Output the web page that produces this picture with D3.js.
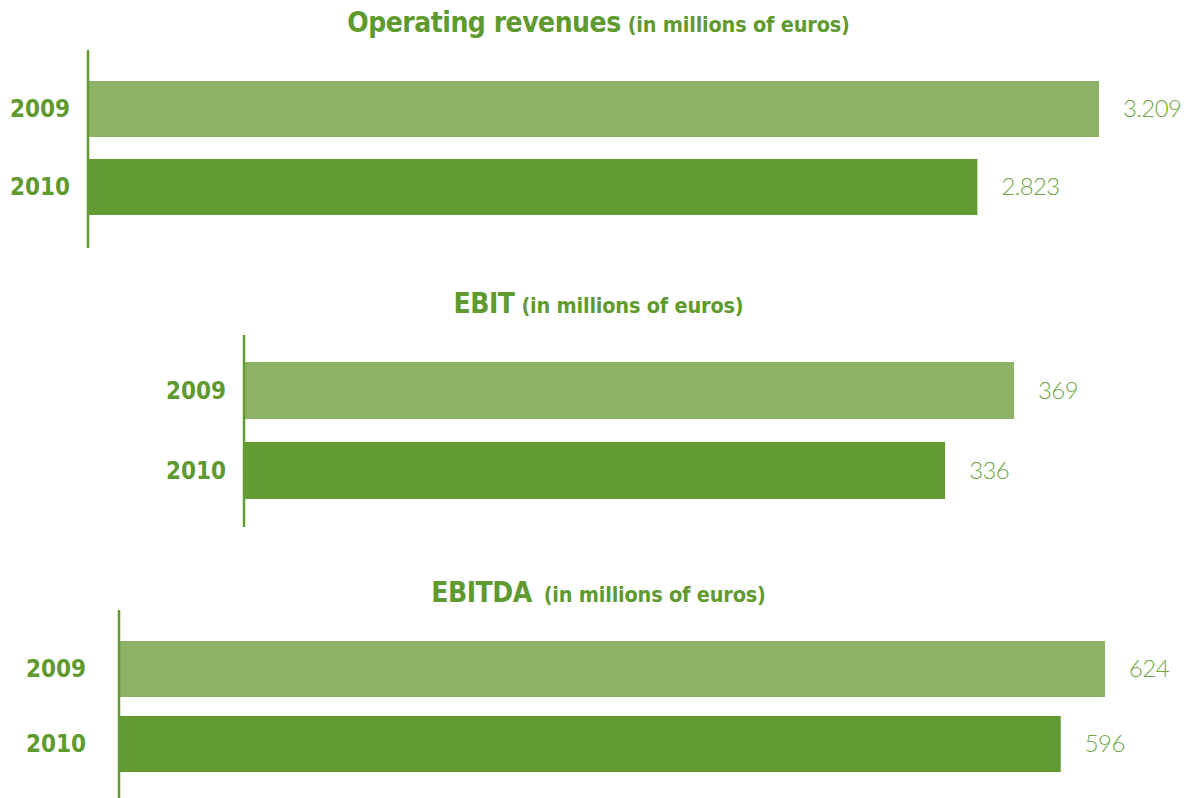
<!DOCTYPE html>
<html>
<head>
<meta charset="utf-8">
<script src="https://cdn.jsdelivr.net/npm/d3@7"></script>
<style>
  body { margin: 0; background: #fff; }
  .title { fill: #5f9a2f; font-family: 'DejaVu Sans Condensed', 'DejaVu Sans', sans-serif; font-stretch: condensed; font-weight: bold; }
  .year { fill: #5f9a2f; font-family: 'DejaVu Sans Condensed', 'DejaVu Sans', sans-serif; font-stretch: condensed; font-weight: bold; font-size: 24px; }
  .value { fill: #6ea544; font-family: Lato, sans-serif; font-weight: 300; font-size: 24px; letter-spacing: -0.6px; }
  .axis-line { stroke: #629b31; stroke-width: 2.5; }
</style>
</head>
<body>
<svg id="chart"></svg>
<script>
const years = ['2009', '2010'];
const titles = ['Operating revenues', 'EBIT', 'EBITDA'];
const subtitle = '(in millions of euros)';
const revenues = [3209, 2823];
const ebit = [369, 336];
const ebitda = [624, 596];

const width = 1189,
  height = 798;
const colors = ['#8db266', '#629b31'];

// european style numbers: 3.209
const fmt = d3.formatLocale({decimal: ',', thousands: '.', grouping: [3], currency: ['', '€']}).format(',d');

// where each panel sits on the page
const panels = [
  {title: titles[0], values: revenues, titleY: 32, axisX: 88, axisTop: 50, axisBottom: 248,
    bandTop: 81, bandBottom: 215, gap: 22, maxX: 1099, labelX: 70, gapSpace: 7},
  {title: titles[1], values: ebit, titleY: 313, axisX: 244, axisTop: 335, axisBottom: 527,
    bandTop: 362, bandBottom: 499, gap: 23, maxX: 1014, labelX: 226, gapSpace: 7},
  {title: titles[2], values: ebitda, titleY: 602, axisX: 119, axisTop: 610, axisBottom: 798,
    bandTop: 641, bandBottom: 772, gap: 19, maxX: 1105, labelX: 86, gapSpace: 12},
];

const svg = d3.select('#chart')
  .attr('width', width)
  .attr('height', height);

panels.forEach(p => {
  const g = svg.append('g');

  const x = d3.scaleLinear()
    .domain([0, d3.max(p.values)])
    .range([p.axisX, p.maxX]);
  const bw = (p.bandBottom - p.bandTop - p.gap) / 2;
  const y = d3.scaleBand()
    .domain(years)
    .range([p.bandTop, p.bandBottom])
    .paddingInner(p.gap / (bw + p.gap));

  // title, bold name + smaller unit
  const t = g.append('text')
    .attr('class', 'title')
    .attr('x', width / 2 + 4)
    .attr('y', p.titleY)
    .attr('text-anchor', 'middle');
  t.append('tspan').attr('font-size', 28).attr('letter-spacing', -0.5).text(p.title);
  t.append('tspan').attr('font-size', 21.5).attr('letter-spacing', -0.2).attr('dx', p.gapSpace).text(subtitle);

  g.selectAll('rect')
    .data(p.values)
    .join('rect')
    .attr('x', p.axisX)
    .attr('y', (_, i) => y(years[i]))
    .attr('width', d => x(d) - p.axisX)
    .attr('height', y.bandwidth())
    .attr('fill', (_, i) => colors[i]);

  g.append('line')
    .attr('class', 'axis-line')
    .attr('x1', p.axisX).attr('x2', p.axisX)
    .attr('y1', p.axisTop).attr('y2', p.axisBottom);

  g.selectAll('text.year')
    .data(years)
    .join('text')
    .attr('class', 'year')
    .attr('x', p.labelX)
    .attr('y', d => y(d) + y.bandwidth() / 2)
    .attr('dy', '0.35em')
    .attr('text-anchor', 'end')
    .text(d => d);

  g.selectAll('text.value')
    .data(p.values)
    .join('text')
    .attr('class', 'value')
    .attr('x', d => x(d) + 24)
    .attr('y', (_, i) => y(years[i]) + y.bandwidth() / 2)
    .attr('dy', '0.35em')
    .text(fmt);
});
</script>
</body>
</html>
